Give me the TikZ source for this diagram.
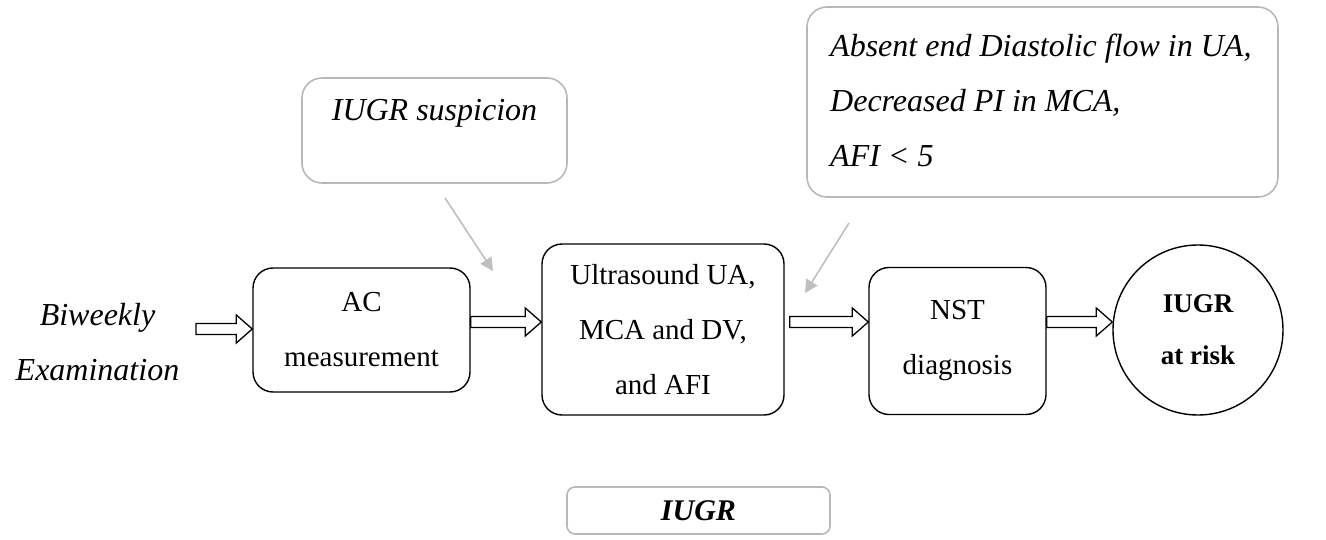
\documentclass[tikz,border=0pt]{standalone}
\usepackage{fontspec}
\setmainfont{Liberation Serif}
\usetikzlibrary{calc,arrows.meta}
\tikzset{
  procbox/.style={draw=black, line width=1.4pt, rounded corners=20pt, align=center,
    font=\fontsize{29}{55}\selectfont, inner sep=0pt},
  notebox/.style={draw=black!28, line width=1.6pt, rounded corners=20pt,
    font=\fontsize{32}{55}\selectfont\itshape, inner sep=0pt},
  graylink/.style={draw=black!25, line width=1.6pt, -{Triangle[length=13pt,width=13pt]}},
  blockarrow/.style={draw=black, line width=1.3pt, line join=miter,
    to path={let \p1=(\tikztostart), \p2=(\tikztotarget) in
      (\x1,\y1+5.5pt) -- (\x2-16pt,\y1+5.5pt) -- (\x2-16pt,\y1+14pt) -- (\x2,\y1)
      -- (\x2-16pt,\y1-14pt) -- (\x2-16pt,\y1-5.5pt) -- (\x1,\y1-5.5pt) -- cycle}}
}
\begin{document}
\begin{tikzpicture}[x=1pt,y=-1pt]
\useasboundingbox (0,0) rectangle (1326,540);
% text on the left
\node[font=\fontsize{32}{55}\selectfont\itshape, inner sep=0pt, align=center] (bi) at (97.5,342) {Biweekly\\Examination};
\coordinate (in) at (196,329);
% process boxes
\node[procbox, minimum width=217pt, minimum height=124pt] (ac) at (361.5,330) {AC\\measurement};
\node[procbox, minimum width=242pt, minimum height=171pt] (us) at (663,329.5) {Ultrasound UA,\\MCA and DV,\\and AFI};
\node[procbox, minimum width=177pt, minimum height=147pt] (nst) at (957.5,341) {NST\\diagnosis};
\node[draw=black, line width=1.4pt, circle, minimum size=170pt, inner sep=0pt, align=center,
  font=\fontsize{27}{52}\selectfont\bfseries] (risk) at (1198,330) {IUGR\\at risk};
% note boxes
\node[notebox, minimum width=265pt, minimum height=105pt] (susp) at (434.5,130.5) {};
\node[font=\fontsize{32}{35}\selectfont\itshape] (susptxt) at (434.5,113) {IUGR suspicion};
\node[notebox, minimum width=471pt, minimum height=190pt] (abs) at (1042.5,102) {};
\node[font=\fontsize{32}{55}\selectfont\itshape, inner sep=0pt, align=left, anchor=west] (abstxt)
  at (830,100) {Absent end Diastolic flow in UA,\\Decreased PI in MCA,\\AFI < 5};
\node[draw=black!28, line width=1.6pt, rounded corners=8pt, minimum width=263pt, minimum height=47pt,
  font=\fontsize{30}{35}\selectfont\bfseries\itshape] (iugr) at (698.5,510.5) {IUGR};
% block arrows
\coordinate (r1) at (0,322);
\draw[blockarrow] (in) to (ac.west |- in);
\draw[blockarrow] (ac.east |- r1) to (us.west |- r1);
\coordinate (usr) at ($(us.east |- r1)+(5pt,0)$);
\draw[blockarrow] (usr) to (nst.west |- r1);
\draw[blockarrow] (nst.east |- r1) to (risk.west |- r1);
% gray pointers
\coordinate (s1) at (445,198);
\coordinate (e1) at (493,271);
\coordinate (s2) at (849,223);
\coordinate (e2) at (805,293);
\draw[graylink] (s1) -- (e1);
\draw[graylink] (s2) -- (e2);
\end{tikzpicture}
\end{document}
